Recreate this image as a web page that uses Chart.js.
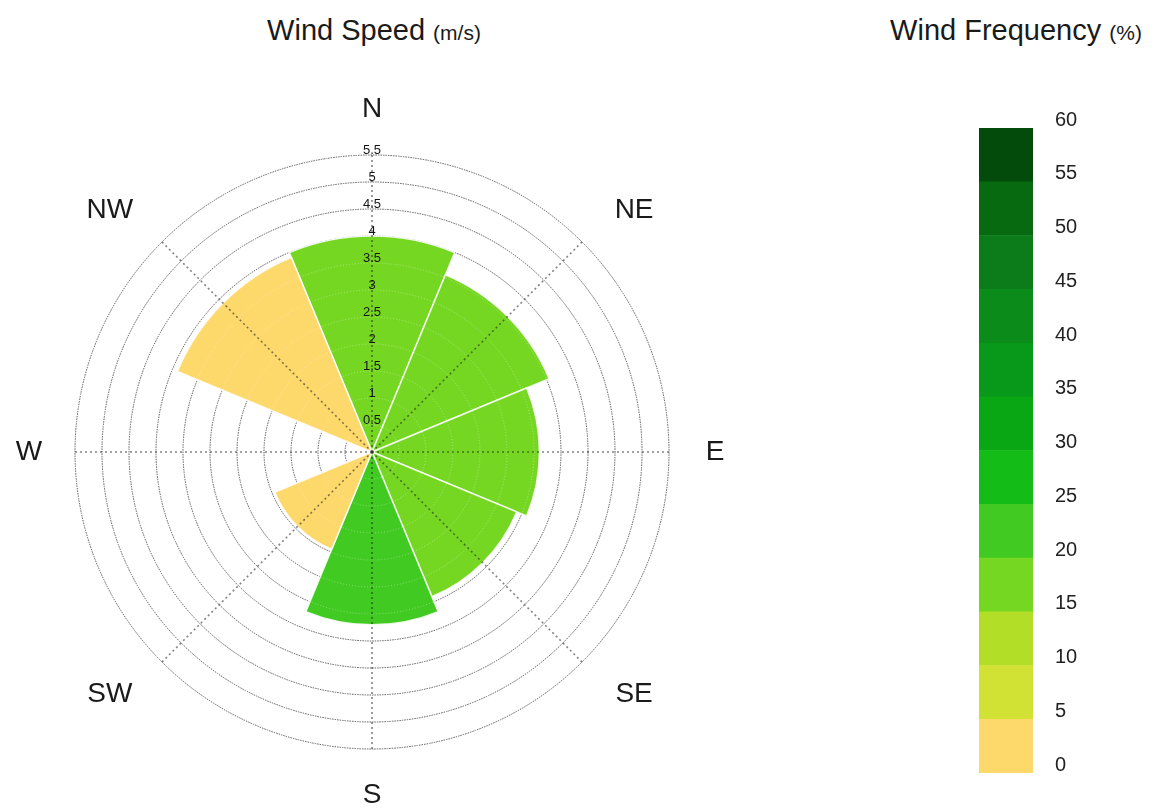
<!DOCTYPE html>
<html><head><meta charset="utf-8">
<script src="https://cdn.jsdelivr.net/npm/chart.js@4/dist/chart.umd.min.js"></script>
<style>
html,body{margin:0;padding:0;background:#fff;width:1164px;height:811px;overflow:hidden;font-family:"Liberation Sans",Arial,sans-serif;}
.title{position:absolute;top:14px;font-size:29px;color:#1a1a1a;white-space:nowrap;transform:translateX(-50%);}
.title small{font-size:21px;}
#rose{position:absolute;left:2px;top:82px;}
#bar{position:absolute;left:960px;top:100px;}
</style></head><body>
<div class="title" style="left:374px">Wind Speed <small>(m/s)</small></div>
<div class="title" style="left:1016px">Wind Frequency <small>(%)</small></div>
<canvas id="rose" width="740" height="740"></canvas>
<canvas id="bar" width="140" height="700"></canvas>
<script>
// ---- data ----
const directions = ['N', 'NE', 'E', 'SE', 'S', 'SW', 'W', 'NW'];
const windSpeed = [4.0, 3.55, 3.1, 2.9, 3.2, 1.95, 0, 3.9];       // m/s
const windFrequency = [17, 16, 16, 16, 22, 3, 0, 3];              // %
const freqBins = [0, 5, 10, 15, 20, 25, 30, 35, 40, 45, 50, 55, 60];
const freqColors = ['#fdd86b', '#d2e234', '#b2de27', '#76d723', '#41ca21', '#13bc16',
                    '#0aa715', '#08981a', '#0b8b1a', '#0b7c19', '#076a10', '#034b0a'];
const speedMax = 5.5, speedStep = 0.5;

function colorFor(f) {
  let k = 0;
  while (k < freqColors.length - 1 && f >= freqBins[k + 1]) k++;
  return freqColors[k];
}

const FONT = '"Liberation Sans", Arial, sans-serif';

const roseDecor = {
  id: 'roseDecor',
  afterDatasetsDraw(chart) {
    const s = chart.scales.r, ctx = chart.ctx;
    const cx = s.xCenter, cy = s.yCenter, R = s.drawingArea;
    const half = Math.PI / directions.length;
    ctx.save();
    // lighter rings visible across the wedges
    ctx.strokeStyle = 'rgba(255,255,255,0.35)';
    ctx.lineWidth = 1;
    ctx.setLineDash([1, 2]);
    s.ticks.forEach(t => {
      if (t.value <= 0) return;
      const d = s.getDistanceFromCenterForValue(t.value);
      ctx.beginPath(); ctx.arc(cx, cy, d, 0, Math.PI * 2); ctx.stroke();
    });
    // direction spokes
    ctx.strokeStyle = 'rgba(30,30,30,0.55)';
    ctx.lineWidth = 1.6;
    ctx.setLineDash([2, 3]);
    directions.forEach((d, i) => {
      const p = s.getPointPosition(i, R, half);
      ctx.beginPath(); ctx.moveTo(cx, cy); ctx.lineTo(p.x, p.y); ctx.stroke();
    });
    ctx.setLineDash([]);
    // speed tick labels along north axis
    ctx.fillStyle = '#141414';
    ctx.font = '13px ' + FONT;
    ctx.textAlign = 'center';
    ctx.textBaseline = 'middle';
    s.ticks.forEach(t => {
      if (t.value <= 0) return;
      const d = s.getDistanceFromCenterForValue(t.value);
      ctx.fillText(t.label, cx, cy - d - 5);
    });
    // compass labels
    ctx.fillStyle = '#1a1a1a';
    ctx.font = '28px ' + FONT;
    directions.forEach((d, i) => {
      const diag = i % 2 === 1;
      const p = s.getPointPosition(i, R * (diag ? 1.2 : 1.155), half);
      const x = cx + (p.x - cx) * (diag ? 1.04 : 1);
      const y = cy + (p.y - cy) * (diag ? 0.96 : 1);
      ctx.fillText(d, x, y);
    });
    ctx.restore();
  }
};

new Chart(document.getElementById('rose'), {
  type: 'polarArea',
  data: {
    labels: directions,
    datasets: [{
      data: windSpeed,
      backgroundColor: windFrequency.map(colorFor),
      borderColor: 'rgba(255,255,255,0.85)',
      borderWidth: 1.5
    }]
  },
  options: {
    responsive: false,
    animation: false,
    layout: { padding: 73 },
    plugins: { legend: { display: false }, tooltip: { enabled: false } },
    scales: {
      r: {
        min: 0, max: speedMax, startAngle: -22.5,
        ticks: { stepSize: speedStep, display: false, callback: v => String(Number(v)) },
        grid: { color: '#505050', lineWidth: 1, circular: true },
        border: { dash: [1.5, 1] },
        angleLines: { display: false },
        pointLabels: { display: false }
      }
    }
  },
  plugins: [roseDecor]
});

new Chart(document.getElementById('bar'), {
  type: 'bar',
  data: {
    labels: [''],
    datasets: freqColors.map((c, i) => ({
      label: freqBins[i] + '–' + freqBins[i + 1],
      data: [freqBins[i + 1] - freqBins[i]],
      backgroundColor: c,
      borderWidth: 0,
      barPercentage: 1,
      categoryPercentage: 1
    }))
  },
  options: {
    responsive: false,
    animation: false,
    layout: { padding: { left: 19, top: 28, bottom: 27, right: 0 } },
    plugins: { legend: { display: false }, tooltip: { enabled: false } },
    scales: {
      x: { stacked: true, display: false },
      y: {
        stacked: true, position: 'right', min: 0, max: 60,
        ticks: { stepSize: 5, padding: 14, labelOffset: -8, color: '#222', font: { size: 20, family: FONT } },
        grid: { display: false },
        border: { display: false },
        afterFit(s) { s.width = 67; }
      }
    }
  }
});
</script>
</body></html>
